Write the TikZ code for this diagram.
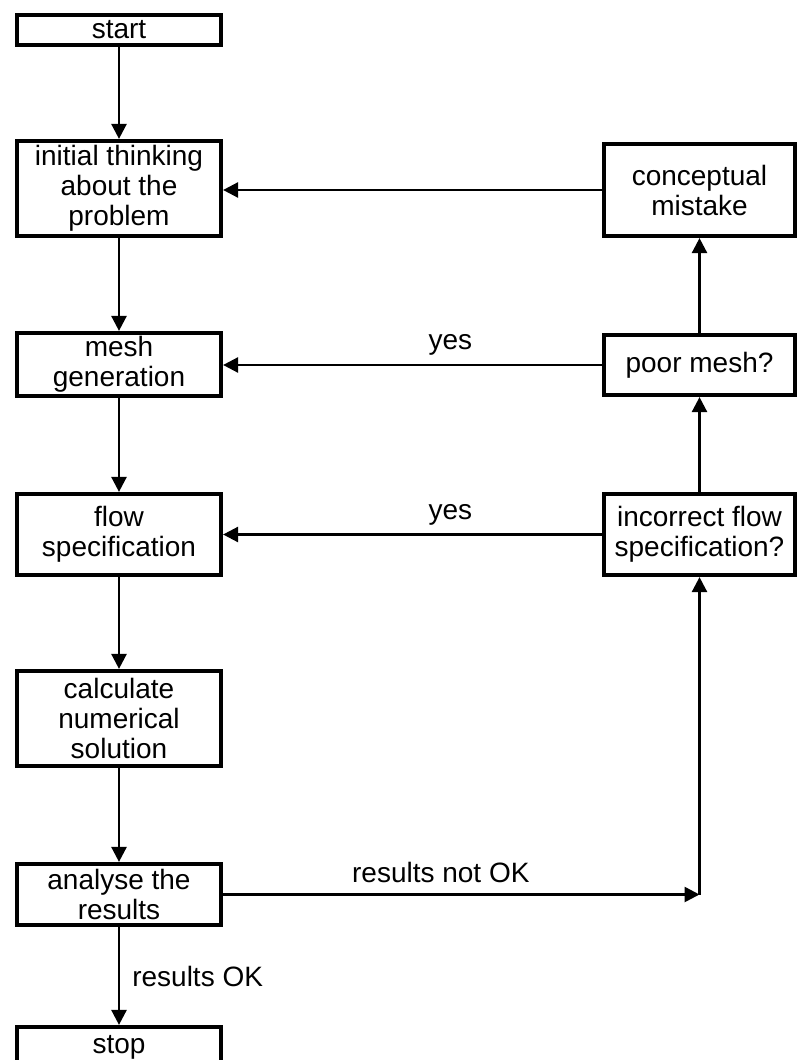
\documentclass[tikz,border=0pt]{standalone}
\usepackage{fontspec}
\setmainfont{Liberation Sans}
\usetikzlibrary{arrows.meta}
\begin{document}
\begin{tikzpicture}[x=1pt,y=-1pt,
  box/.style={draw,line width=4.2pt,align=center,inner sep=0pt,
    font=\fontsize{28}{30}\selectfont},
  leftbox/.style={box,minimum width=204pt},
  rightbox/.style={box,minimum width=191pt},
  flow/.style={line width=2.6pt,-{Triangle[length=15pt,width=15pt]}},
  lbl/.style={font=\fontsize{28}{30}\selectfont,inner sep=0pt}]
\useasboundingbox (0,0) rectangle (800,1060);
\clip (0,0) rectangle (800,1060);

% main column
\node[leftbox,minimum height=30pt] (start) at (119,30) {start};
\node[leftbox,minimum height=95pt] (think) at (119,188.5) {initial thinking\\about the\\problem};
\node[leftbox,minimum height=63pt] (mesh) at (119,364.5) {mesh\\generation};
\node[leftbox,minimum height=81pt] (flowspec) at (119,534.5) {flow\\specification};
\node[leftbox,minimum height=95pt] (calc) at (119,718.5) {calculate\\numerical\\solution};
\node[leftbox,minimum height=61pt] (analyse) at (119,894.5) {analyse the\\results};
\node[leftbox,minimum height=40pt] (stop) at (119,1047) {stop};

% checks column
\node[rightbox,minimum height=92pt] (concept) at (699.5,190) {conceptual\\mistake};
\node[rightbox,minimum height=60pt] (poor) at (699.5,365) {poor mesh?};
\node[rightbox,minimum height=81pt] (wrongflow) at (699.5,534.5) {incorrect flow\\specification?};

% forward path
\draw[flow] (start) -- (think);
\draw[flow] (think) -- (mesh);
\draw[flow] (mesh) -- (flowspec);
\draw[flow] (flowspec) -- (calc);
\draw[flow] (calc) -- (analyse);
\draw[flow] (analyse) -- node[lbl,right=12pt] {results OK} (stop);

% feedback path
\coordinate (j) at (wrongflow.south |- analyse.east);
\draw[flow] (analyse.east) -- node[lbl,above=10pt,pos=0.457] {results not OK} (j);
\draw[flow] (j) -- (wrongflow.south);
\draw[flow] (wrongflow) -- (poor);
\draw[flow] (poor) -- (concept);
\draw[flow] (wrongflow.west) -- node[lbl,above=8pt,pos=0.4] {yes} (wrongflow.west -| flowspec.east);
\draw[flow] (poor.west) -- node[lbl,above=8pt,pos=0.4] {yes} (poor.west -| mesh.east);
\draw[flow] (concept.west) -- (concept.west -| think.east);
\end{tikzpicture}
\end{document}
